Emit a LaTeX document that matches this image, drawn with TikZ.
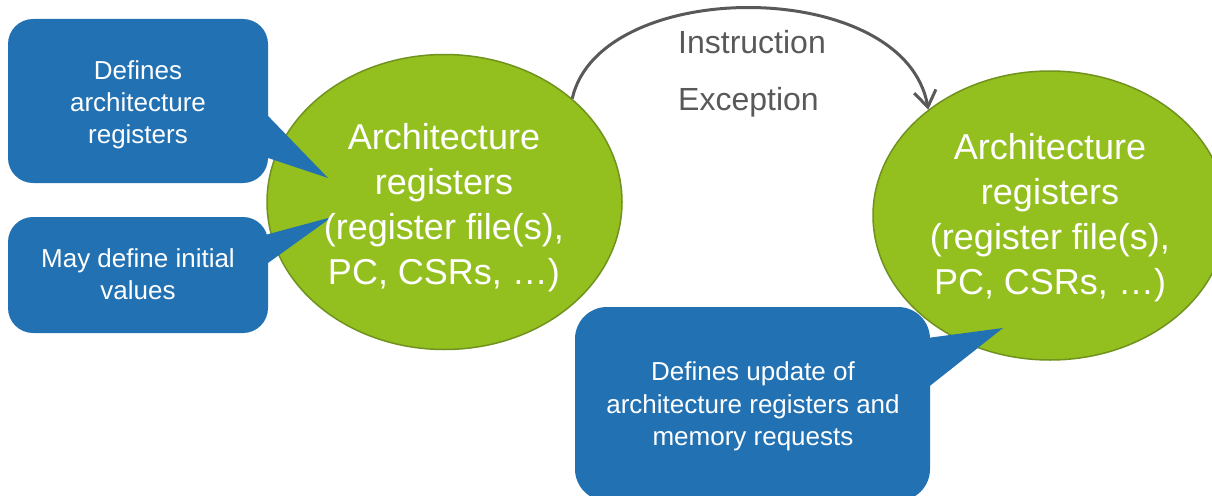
\documentclass[tikz,border=0pt]{standalone}
\usepackage{fontspec}
\setmainfont{Liberation Sans}
\usetikzlibrary{shapes.geometric,arrows.meta}
\definecolor{leaf}{RGB}{147,192,31}
\definecolor{leafedge}{RGB}{112,146,30}
\definecolor{notefill}{RGB}{34,113,179}
\definecolor{ink}{RGB}{89,89,89}

\begin{document}
\begin{tikzpicture}[x=1pt,y=-1pt,
  regell/.style={ellipse, draw=leafedge, line width=1.5pt, fill=leaf, inner sep=0pt},
  regtxt/.style={text=white, align=center, inner sep=0pt, font=\fontsize{36}{45}\selectfont},
  notebox/.style={fill=notefill, inner sep=0pt},
  notetxt/.style={text=white, align=center, inner sep=0pt, font=\fontsize{26}{32}\selectfont},
  flow/.style={draw=ink, line width=3pt, -{Straight Barb[length=16pt,width=22pt]}},
  lbl/.style={text=ink, anchor=base west, inner sep=0pt, font=\fontsize{32}{40}\selectfont}]

\useasboundingbox (0,0) rectangle (1212,495);
\clip (0,0) rectangle (1212,495);

% the two register-state ellipses
\node[regell, minimum width=355pt, minimum height=295pt] (L) at (444.5,202) {};
\node[regell, minimum width=354pt, minimum height=289pt] (R) at (1050,215.5) {};

% transition from one state to the next
\draw[flow] (L.39) .. controls (600,-24) and (905,-24) .. (R.139);
\node[lbl] (ins) at (678,53) {Instruction};
\node[lbl] (exc) at (678,110) {Exception};

% callout boxes
\node[notebox, rounded corners=25pt, minimum width=260pt, minimum height=164pt] (c1) at (138,101) {};
\node[notebox, rounded corners=25pt, minimum width=260pt, minimum height=116pt] (c2) at (138,275) {};
\node[notebox, rounded corners=32pt, minimum width=355pt, minimum height=194pt] (c3) at (752.5,404) {};

% callout pointers
\coordinate (t1) at (328,178);
\coordinate (t2) at (332,217);
\coordinate (t3) at (1003,328);
\fill[notefill] ([xshift=-3pt,yshift=-12pt]c1.east) -- (t1) -- ([xshift=-3pt,yshift=-56pt]c1.east) -- cycle;
\fill[notefill] ([xshift=-3pt,yshift=40pt]c2.east) -- (t2) -- ([xshift=-3pt,yshift=10pt]c2.east) -- cycle;
\fill[notefill] ([xshift=-3pt,yshift=66pt]c3.east) -- (t3) -- ([xshift=-3pt,yshift=16pt]c3.east) -- cycle;

% texts
\node[regtxt] (Lt) at (444,208) {Architecture\\registers\\(register file(s),\\PC, CSRs, …)};
\node[regtxt] (Rt) at (1050,218) {Architecture\\registers\\(register file(s),\\PC, CSRs, …)};
\node[notetxt] (c1t) at (138,105) {Defines\\architecture\\registers};
\node[notetxt] (c2t) at (138,274.5) {May define initial\\values};
\node[notetxt, font=\fontsize{26}{32.5}\selectfont] (c3t) at (753,406.5) {Defines update of\\architecture registers and\\memory requests};
\end{tikzpicture}
\end{document}
